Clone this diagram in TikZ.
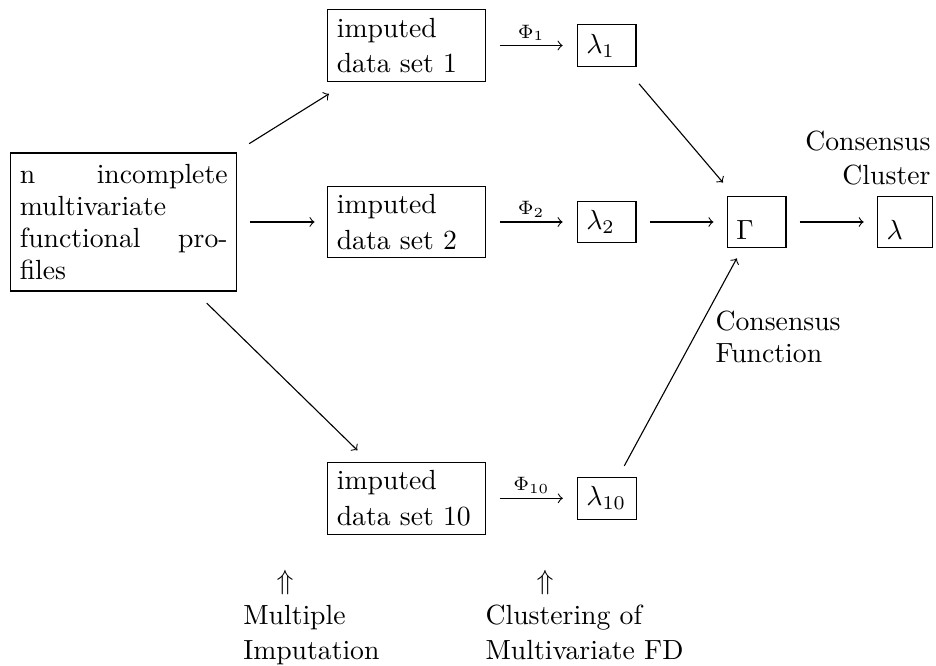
\documentclass[tikz,border=0pt]{standalone}
\setlength{\parindent}{0pt}
\begin{document}
\begin{tikzpicture}[x=0.361pt,y=-0.361pt,
  box/.style={draw, line width=0.4pt, inner xsep=3.33pt, inner ysep=3pt},
  databox/.style={box, text width=50.3pt, align=left, font=\fontsize{10}{12.8}\selectfont},
  valbox/.style={box, text width=14.6pt, align=left, inner ysep=3.33pt},
  outbox/.style={box, align=left, text height=12.3pt, text depth=0pt},
  flow/.style={->, line width=0.4pt},
  maplabel/.style={above, inner sep=1.5pt, font=\scriptsize},
  note/.style={inner sep=0pt, font=\fontsize{10}{12.6}\selectfont},
]
\useasboundingbox (0,0) rectangle (936,666);

% source data
\node[box, text width=75pt, align=justify, minimum height=49.8pt,
      font=\fontsize{10}{11.5}\selectfont] (src) at (123.7,222)
      {n incomplete multivariate functional profiles};

% imputed data sets
\node[databox] (d1)  at (406.5,45.5)  {imputed\\data set 1};
\node[databox] (d2)  at (406.5,222)   {imputed\\data set 2};
\node[databox] (d10) at (406.5,498.3) {imputed\\data set 10};

% individual clusterings
\node[valbox] (l1)  at (606.5,45.5)  {$\lambda_1$};
\node[valbox] (l2)  at (606.5,222)   {$\lambda_2$};
\node[valbox] (l10) at (606.7,498.3) {$\lambda_{10}$};

% consensus
\node[outbox, text width=14.6pt] (gam) at (756.5,222) {$\Gamma$};
\node[outbox, text width=13.2pt] (lam) at (904.8,222) {$\lambda$};

% annotations (base anchor sits on the last line)
\node[note, align=right, anchor=base east] (cc) at (931,185) {Consensus\\Cluster};
\node[note, align=left, anchor=base west, font=\fontsize{10}{11.9}\selectfont] (cf) at (715,363) {Consensus\\Function};
\node[inner sep=0pt, anchor=base] (up1) at (285,589.6) {$\Uparrow$};
\node[note, align=left, anchor=base west] (mi) at (242.7,659.3) {Multiple\\Imputation};
\node[inner sep=0pt, anchor=base] (up2) at (545,589.6) {$\Uparrow$};
\node[note, align=left, anchor=base west] (cm) at (485,659.3) {Clustering of\\Multivariate FD};

% imputation arrows
\draw[flow, shorten <=4.5pt, shorten >=4.5pt] (src) -- (d2);
\draw[flow, shorten <=6pt, shorten >=8.2pt] (src) -- (d1);
\draw[flow, shorten <=6pt, shorten >=5.9pt] (src) -- (d10);

% clustering arrows
\draw[flow, shorten <=5pt, shorten >=5pt] (d1)  -- node[maplabel] {$\Phi_1$}    (l1);
\draw[flow, shorten <=5pt, shorten >=5pt] (d2)  -- node[maplabel] {$\Phi_2$}    (l2);
\draw[flow, shorten <=5pt, shorten >=5pt] (d10) -- node[maplabel] {$\Phi_{10}$} (l10);

% consensus arrows
\draw[flow, shorten <=8pt, shorten >=6.4pt] (l1) -- (gam);
\draw[flow, shorten <=4.7pt, shorten >=4.7pt] (l2) -- (gam);
\draw[flow, shorten <=4.5pt, shorten >=4.3pt] (l10) -- (gam);
\draw[flow, shorten <=4.7pt, shorten >=4.7pt] (gam) -- (lam);
\end{tikzpicture}
\end{document}
